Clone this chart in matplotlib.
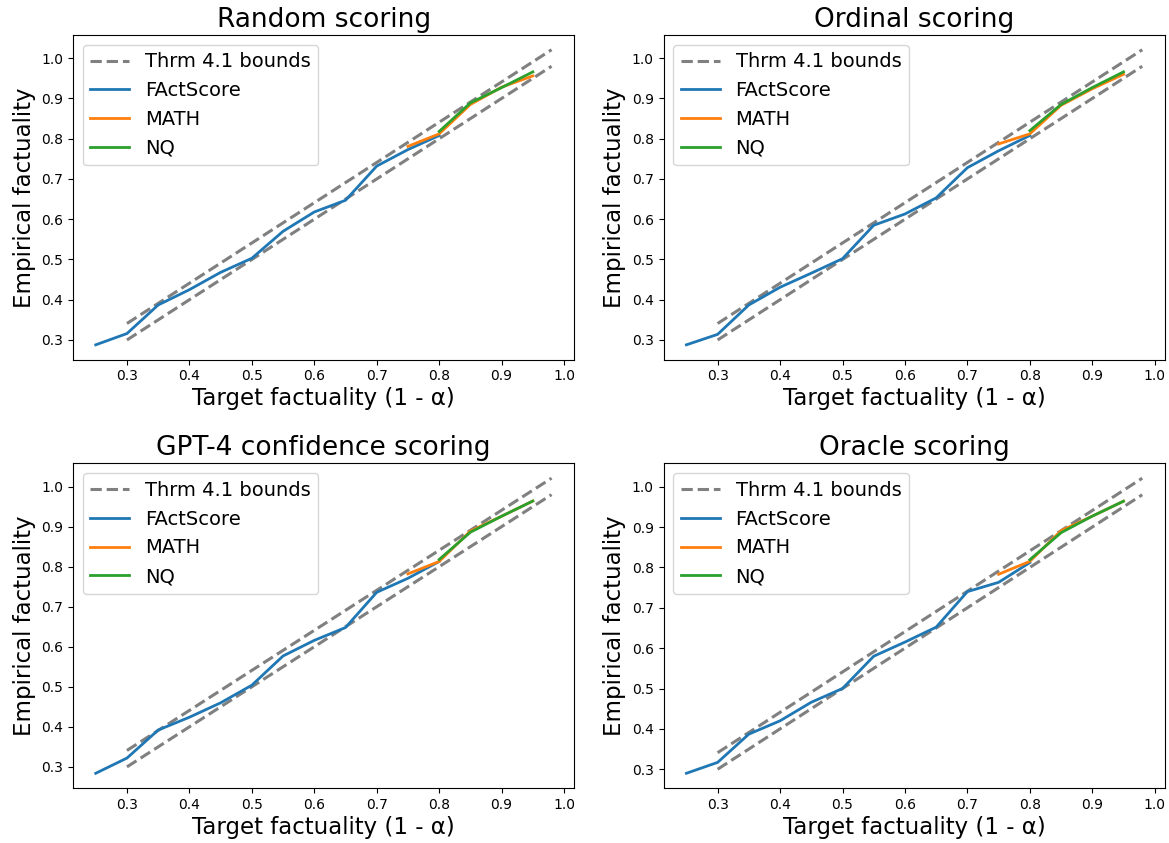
import matplotlib
matplotlib.use("Agg")
import matplotlib.pyplot as plt

# ------------------------------------------------------------
# Data
# ------------------------------------------------------------
titles = ["Random scoring", "Ordinal scoring",
          "GPT-4 confidence scoring", "Oracle scoring"]

bound_x = [0.30, 0.98]
bound_lower = [0.30, 0.98]
bound_upper = [0.341, 1.021]

factscore_x = [0.25, 0.30, 0.35, 0.40, 0.45, 0.50, 0.55, 0.60, 0.65, 0.70, 0.75, 0.80]
math_x = [0.75, 0.80, 0.85, 0.90, 0.95]
nq_x = [0.80, 0.85, 0.90, 0.95]

factscore_random = [0.288, 0.316, 0.387, 0.425, 0.468, 0.503, 0.570, 0.618, 0.647, 0.732, 0.773, 0.808]
factscore_ordinal = [0.288, 0.314, 0.387, 0.431, 0.466, 0.502, 0.585, 0.613, 0.653, 0.728, 0.770, 0.808]
factscore_gpt4 = [0.284, 0.322, 0.392, 0.424, 0.460, 0.504, 0.577, 0.616, 0.648, 0.736, 0.771, 0.813]
factscore_oracle = [0.290, 0.317, 0.387, 0.420, 0.466, 0.500, 0.580, 0.615, 0.652, 0.740, 0.763, 0.812]

math_random = [0.781, 0.812, 0.885, 0.928, 0.956]
math_ordinal = [0.787, 0.812, 0.883, 0.924, 0.960]
math_gpt4 = [0.782, 0.813, 0.889, 0.926, 0.964]
math_oracle = [0.783, 0.815, 0.891, 0.927, 0.964]

nq_random = [0.818, 0.889, 0.927, 0.966]
nq_ordinal = [0.820, 0.885, 0.927, 0.966]
nq_gpt4 = [0.818, 0.886, 0.926, 0.964]
nq_oracle = [0.819, 0.886, 0.927, 0.964]

factscore_all = [factscore_random, factscore_ordinal, factscore_gpt4, factscore_oracle]
math_all = [math_random, math_ordinal, math_gpt4, math_oracle]
nq_all = [nq_random, nq_ordinal, nq_gpt4, nq_oracle]


def main() -> None:
    fig, axes = plt.subplots(2, 2, figsize=(11.69, 8.43), dpi=100)
    fig.subplots_adjust(left=0.0624, right=0.9966, top=0.9585, bottom=0.0652,
                        wspace=0.178, hspace=0.32)

    for i, ax in enumerate(axes.flat):
        ax.plot(bound_x, bound_upper, "--", color="gray", lw=2.2, label="Thrm 4.1 bounds")
        ax.plot(bound_x, bound_lower, "--", color="gray", lw=2.2)
        ax.plot(factscore_x, factscore_all[i], color="tab:blue", lw=2, label="FActScore")
        ax.plot(math_x, math_all[i], color="tab:orange", lw=2, label="MATH")
        ax.plot(nq_x, nq_all[i], color="tab:green", lw=2, label="NQ")

        ax.set_title(titles[i], fontsize=19)
        ax.set_xlabel("Target factuality (1 - α)", fontsize=16.5, labelpad=3)
        ax.set_ylabel("Empirical factuality", fontsize=16.5)
        ax.set_xticks([0.3, 0.4, 0.5, 0.6, 0.7, 0.8, 0.9, 1.0])
        ax.set_yticks([0.3, 0.4, 0.5, 0.6, 0.7, 0.8, 0.9, 1.0])
        ax.tick_params(labelsize=10, length=3.5)
        ax.legend(loc="upper left", fontsize=14)

    fig.savefig("out.png", dpi=100)
    plt.close(fig)


if __name__ == "__main__":
    main()
